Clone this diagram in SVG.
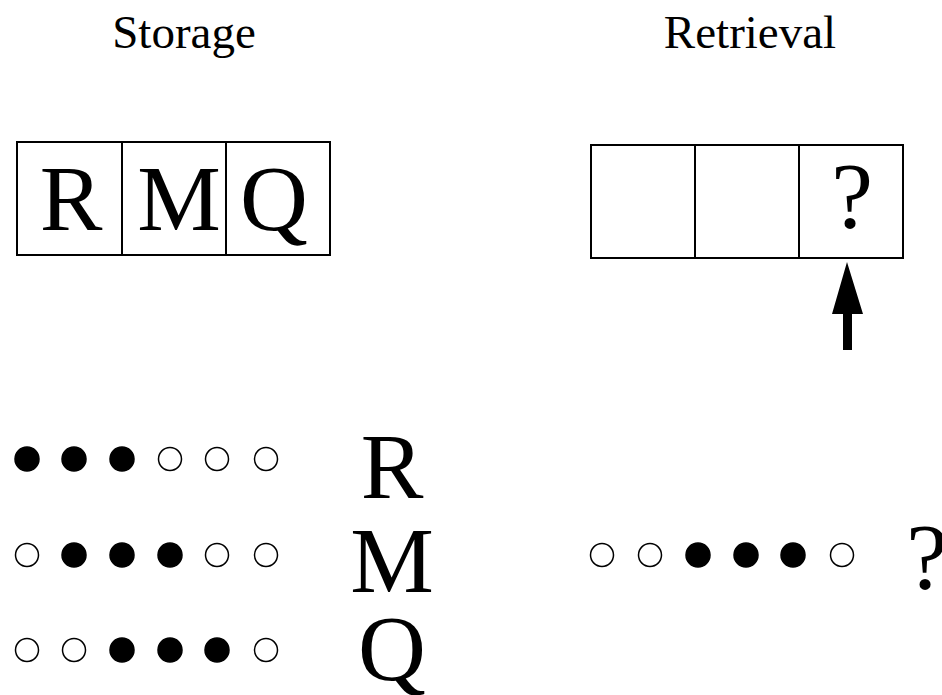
<svg xmlns="http://www.w3.org/2000/svg" width="942" height="695" viewBox="0 0 942 695">
<style>
text{font-family:"Liberation Serif","Times New Roman",serif;fill:#000;text-anchor:middle}
.t{font-size:47px}
.big{font-size:94px}
.cell{fill:#fff;stroke:#000;stroke-width:2}
.on{fill:#000;stroke:#000;stroke-width:1.5}
.off{fill:#fff;stroke:#000;stroke-width:1.5}
</style>
<rect width="942" height="695" fill="#fff"/>
<g id="titles">
<text class="t" x="184" y="48">Storage</text>
<text class="t" x="750" y="48">Retrieval</text>
</g>
<g id="storage-box">
<rect class="cell" x="17" y="142" width="105" height="113"/>
<rect class="cell" x="122" y="142" width="104" height="113"/>
<rect class="cell" x="226" y="142" width="104" height="113"/>
<text class="big" x="71" y="230">R</text>
<text class="big" x="179" y="230">M</text>
<text class="big" x="274" y="230">Q</text>
</g>
<g id="retrieval-box">
<rect class="cell" x="591" y="145" width="104" height="113"/>
<rect class="cell" x="695" y="145" width="104" height="113"/>
<rect class="cell" x="799" y="145" width="104" height="113"/>
<text class="big" x="852" y="227">?</text>
</g>
<g id="connectors">
<polygon points="847,262 863,314 852,314 852,350 843,350 843,314 832,314" fill="#000"/>
</g>
<g id="pattern-R">
<circle class="on" cx="27" cy="459" r="12"/>
<circle class="on" cx="74" cy="459" r="12"/>
<circle class="on" cx="122" cy="459" r="12"/>
<circle class="off" cx="170" cy="459" r="11.5"/>
<circle class="off" cx="217" cy="459" r="11.5"/>
<circle class="off" cx="266" cy="459" r="11.5"/>
<text class="big" x="392" y="498">R</text>
</g>
<g id="pattern-M">
<circle class="off" cx="27" cy="555" r="11.5"/>
<circle class="on" cx="74" cy="555" r="12"/>
<circle class="on" cx="122" cy="555" r="12"/>
<circle class="on" cx="170" cy="555" r="12"/>
<circle class="off" cx="217" cy="555" r="11.5"/>
<circle class="off" cx="266" cy="555" r="11.5"/>
<text class="big" x="392" y="592">M</text>
</g>
<g id="pattern-Q">
<circle class="off" cx="27" cy="650" r="11.5"/>
<circle class="off" cx="74" cy="650" r="11.5"/>
<circle class="on" cx="122" cy="650" r="12"/>
<circle class="on" cx="170" cy="650" r="12"/>
<circle class="on" cx="217" cy="650" r="12"/>
<circle class="off" cx="266" cy="650" r="11.5"/>
<text class="big" x="392" y="680">Q</text>
</g>
<g id="pattern-query">
<circle class="off" cx="602" cy="555" r="11.5"/>
<circle class="off" cx="650" cy="555" r="11.5"/>
<circle class="on" cx="698" cy="555" r="12"/>
<circle class="on" cx="746" cy="555" r="12"/>
<circle class="on" cx="793" cy="555" r="12"/>
<circle class="off" cx="842" cy="555" r="11.5"/>
<text class="big" x="927" y="588">?</text>
</g>
</svg>
